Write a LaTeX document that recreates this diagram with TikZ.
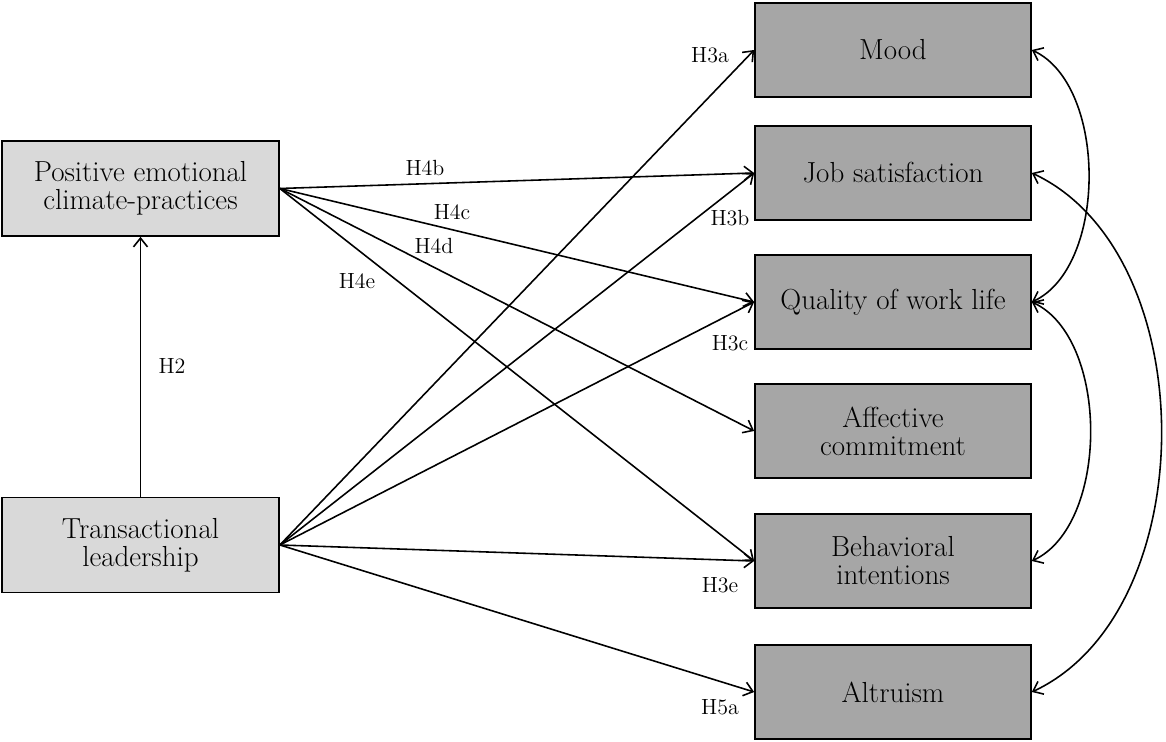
\documentclass[tikz,border=0pt]{standalone}
\usepackage{tikz}
\usetikzlibrary{arrows.meta,positioning}

\begin{document}
\begin{tikzpicture}[x=0.02cm, y=-0.02cm,
      src/.style={draw, line width=1pt, fill=black!15, minimum width=5.54cm,
                  minimum height=1.9cm, align=center,
                  font=\fontsize{16.5}{16}\selectfont},
      tgt/.style={draw, line width=1pt, fill=black!35, minimum width=5.52cm,
                  minimum height=1.88cm, align=center,
                  font=\fontsize{16.5}{16}\selectfont},
      hyp/.style={inner sep=1pt, font=\fontsize{12.5}{14}\selectfont},
      arr/.style={line width=0.9pt, -{Straight Barb[length=5pt,width=8pt]}},
      cov/.style={line width=0.9pt,
                  {Straight Barb[length=5pt,width=8pt]}-{Straight Barb[length=5pt,width=8pt]}}]
      \useasboundingbox (0,0) rectangle (1166,742);

      % Predictors (left column)
      \node[src] (pec) at (140.5,188.5) {Positive emotional\\climate-practices};
      \node[src] (tl)  at (140.5,545)   {Transactional\\leadership};

      % Outcomes (right column)
      \foreach \n/\y/\txt in {mood/50/Mood, job/173/Job satisfaction,
                              qwl/302/Quality of work life,
                              aff/431/Affective\\commitment,
                              beh/561/Behavioral\\intentions,
                              alt/692/Altruism}{
        \node[tgt] (\n) at (893,\y) {\txt};
      }

      % H2
      \draw[arr] (tl.north) -- (pec.south);

      % Paths from positive emotional climate-practices (H4b--H4e)
      \foreach \t in {job,qwl,aff,beh}{
        \draw[arr] (pec.east) -- (\t.west);
      }
      % Paths from transactional leadership (H3a--H3e, H5a)
      \foreach \t in {mood,job,qwl,beh,alt}{
        \draw[arr] (tl.east) -- (\t.west);
      }

      % Correlations between outcomes
      \draw[cov] (mood.east) to[out=-25, in=25, looseness=0.85] (qwl.east);
      \draw[cov] (qwl.east)  to[out=-25, in=25, looseness=0.85] (beh.east);
      \draw[cov] (job.east)  to[out=-25, in=25, looseness=0.94] (alt.east);

      % Hypothesis labels
      \node[hyp] (h2)  at (172,366) {H2};
      \node[hyp] (h4b) at (425,168) {H4b};
      \node[hyp] (h4c) at (452,212) {H4c};
      \node[hyp] (h4d) at (434,246) {H4d};
      \node[hyp] (h4e) at (357,281) {H4e};
      \node[hyp] (h3a) at (710,55)  {H3a};
      \node[hyp] (h3b) at (730,218) {H3b};
      \node[hyp] (h3c) at (730,343) {H3c};
      \node[hyp] (h3e) at (720,585) {H3e};
      \node[hyp] (h5a) at (720,707) {H5a};
    \end{tikzpicture}
\end{document}
